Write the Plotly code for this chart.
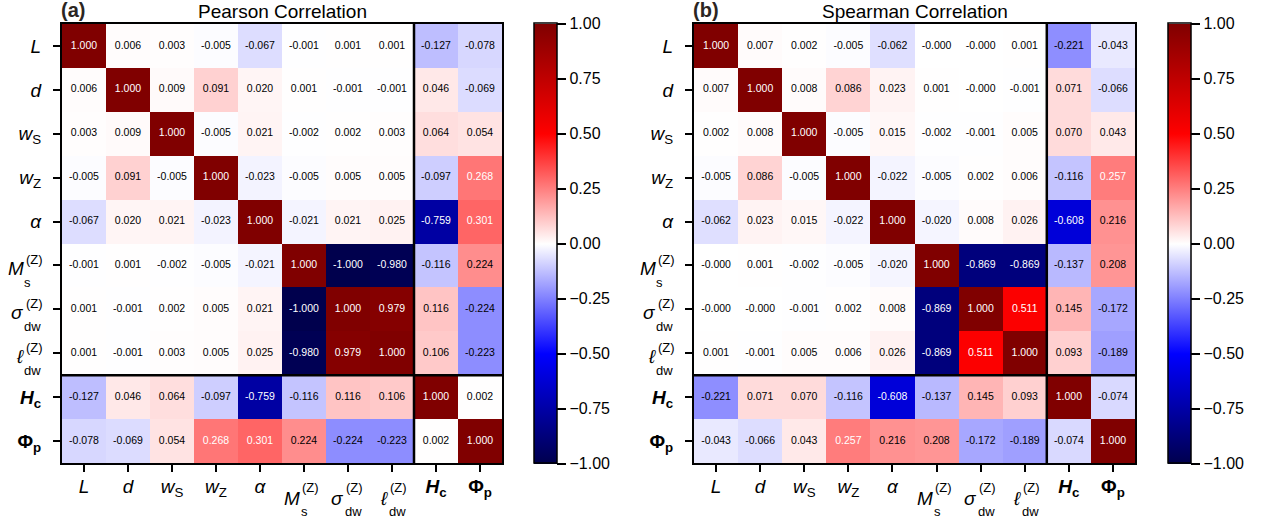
import plotly.graph_objects as go

# Parameter labels (rows and columns share the same order): base symbol, subscript, superscript
label_base = ["<i>L</i>", "<i>d</i>", "<i>w</i>", "<i>w</i>", "<i>α</i>",
              "<i>M</i>", "<i>σ</i>", "<i>ℓ</i>", "<b><i>H</i></b>", "<b>Φ</b>"]
label_sub = ["", "", "S", "Z", "", "s", "dw", "dw", "<b>c</b>", "<b>p</b>"]
label_sup = ["", "", "", "", "", "(Z)", "(Z)", "(Z)", "", ""]
n_inputs = 8  # first eight are model inputs, last two are outputs

pearson = [
    [1.000, 0.006, 0.003, -0.005, -0.067, -0.001, 0.001, 0.001, -0.127, -0.078],
    [0.006, 1.000, 0.009, 0.091, 0.020, 0.001, -0.001, -0.001, 0.046, -0.069],
    [0.003, 0.009, 1.000, -0.005, 0.021, -0.002, 0.002, 0.003, 0.064, 0.054],
    [-0.005, 0.091, -0.005, 1.000, -0.023, -0.005, 0.005, 0.005, -0.097, 0.268],
    [-0.067, 0.020, 0.021, -0.023, 1.000, -0.021, 0.021, 0.025, -0.759, 0.301],
    [-0.001, 0.001, -0.002, -0.005, -0.021, 1.000, -1.000, -0.980, -0.116, 0.224],
    [0.001, -0.001, 0.002, 0.005, 0.021, -1.000, 1.000, 0.979, 0.116, -0.224],
    [0.001, -0.001, 0.003, 0.005, 0.025, -0.980, 0.979, 1.000, 0.106, -0.223],
    [-0.127, 0.046, 0.064, -0.097, -0.759, -0.116, 0.116, 0.106, 1.000, 0.002],
    [-0.078, -0.069, 0.054, 0.268, 0.301, 0.224, -0.224, -0.223, 0.002, 1.000],
]

spearman = [
    [1.000, 0.007, 0.002, -0.005, -0.062, -0.0, -0.0, 0.001, -0.221, -0.043],
    [0.007, 1.000, 0.008, 0.086, 0.023, 0.001, -0.0, -0.001, 0.071, -0.066],
    [0.002, 0.008, 1.000, -0.005, 0.015, -0.002, -0.001, 0.005, 0.070, 0.043],
    [-0.005, 0.086, -0.005, 1.000, -0.022, -0.005, 0.002, 0.006, -0.116, 0.257],
    [-0.062, 0.023, 0.015, -0.022, 1.000, -0.020, 0.008, 0.026, -0.608, 0.216],
    [-0.0, 0.001, -0.002, -0.005, -0.020, 1.000, -0.869, -0.869, -0.137, 0.208],
    [-0.0, -0.0, -0.001, 0.002, 0.008, -0.869, 1.000, 0.511, 0.145, -0.172],
    [0.001, -0.001, 0.005, 0.006, 0.026, -0.869, 0.511, 1.000, 0.093, -0.189],
    [-0.221, 0.071, 0.070, -0.116, -0.608, -0.137, 0.145, 0.093, 1.000, -0.074],
    [-0.043, -0.066, 0.043, 0.257, 0.216, 0.208, -0.172, -0.189, -0.074, 1.000],
]

panel_tags = ["(a)", "(b)"]
panel_titles = ["Pearson Correlation", "Spearman Correlation"]
colorbar_ticks = [1.0, 0.75, 0.5, 0.25, 0.0, -0.25, -0.5, -0.75, -1.0]

# diverging blue-white-red scale (seismic)
seismic = [
    [0.0, "rgb(0,0,77)"],
    [0.25, "rgb(0,0,255)"],
    [0.5, "rgb(255,255,255)"],
    [0.75, "rgb(255,0,0)"],
    [1.0, "rgb(128,0,0)"],
]

W, H = 1266, 520
FONT = "Liberation Sans, Arial, Helvetica, sans-serif"
LABEL_SIZE = 19
SCRIPT_SIZE = 13

# pixel placement of each panel: (heatmap left, heatmap right, colorbar left)
panels_px = [(62, 502, 534), (694, 1135, 1168)]
top_px, bottom_px = 24, 463

idx = list(range(len(label_base)))

# simple labels go on the axis as tick text; labels carrying both a subscript and
# a superscript get a plain tick mark and are stacked with annotations below
plain_vals, plain_text, stacked_vals = [], [], []
for k, (b, sb, sp) in enumerate(zip(label_base, label_sub, label_sup)):
    if sp:
        stacked_vals.append(k)
    else:
        plain_vals.append(k)
        plain_text.append(b + (f"<sub>{sb}</sub>" if sb else ""))

fig = go.Figure()


def note(text, size, **kw):
    fig.add_annotation(text=text, showarrow=False, borderpad=0, borderwidth=0,
                       font=dict(size=size, color="black", family=FONT), **kw)


for p, (mat, (x0, x1, cbx)) in enumerate(zip([pearson, spearman], panels_px)):
    xa = "x" if p == 0 else "x2"
    ya = "y" if p == 0 else "y2"
    fig.add_trace(go.Heatmap(
        z=mat, x=idx, y=idx,
        colorscale=seismic, zmin=-1, zmax=1,
        xaxis=xa, yaxis=ya, hoverinfo="skip",
        colorbar=dict(
            x=cbx / W, xanchor="left", xpad=0, ypad=0,
            y=1 - (top_px + bottom_px) / 2 / H, yanchor="middle",
            len=bottom_px - top_px + 1, lenmode="pixels",
            thickness=23, thicknessmode="pixels",
            outlinewidth=1.5, outlinecolor="black",
            tickvals=colorbar_ticks, tickformat=".2f", tickprefix="\u00a0",
            ticks="outside", ticklen=9, tickwidth=1.5, tickcolor="black",
            tickfont=dict(size=16, color="black", family=FONT),
        ),
    ))
    # cell values
    xs, ys, txt, cols = [], [], [], []
    for i, row in enumerate(mat):
        for j, v in enumerate(row):
            xs.append(j)
            ys.append(i)
            txt.append(f"{v:.3f}")
            cols.append("white" if abs(v) > 0.25 else "black")
    fig.add_trace(go.Scatter(
        x=xs, y=ys, text=txt, mode="text", xaxis=xa, yaxis=ya,
        textfont=dict(size=10.5, color=cols, family=FONT),
        hoverinfo="skip", showlegend=False,
    ))

    axis_common = dict(
        tickmode="array", tickvals=plain_vals, ticktext=plain_text,
        showgrid=False, zeroline=False,
        showline=True, mirror=True, linewidth=2, linecolor="black",
        ticks="outside", ticklen=7, tickwidth=2, tickcolor="black",
        minor=dict(tickmode="array", tickvals=stacked_vals, ticks="outside",
                   ticklen=7, tickwidth=2, tickcolor="black", showgrid=False),
        tickangle=0,
        tickfont=dict(size=LABEL_SIZE, color="black", family=FONT),
    )
    xkey = "xaxis" if p == 0 else "xaxis2"
    ykey = "yaxis" if p == 0 else "yaxis2"
    fig.update_layout(**{
        xkey: dict(axis_common, domain=[x0 / W, x1 / W], range=[-0.5, len(idx) - 0.5],
                   anchor=ya, ticklabelstandoff=-2),
        ykey: dict(axis_common, domain=[1 - bottom_px / H, 1 - top_px / H],
                   range=[len(idx) - 0.5, -0.5], anchor=xa, ticklabelstandoff=8),
    })

    # stacked sub/superscript labels
    for k in stacked_vals:
        b, sb, sp = label_base[k], label_sub[k], label_sup[k]
        # x axis (below the map)
        note(b, LABEL_SIZE, xref=xa, x=k, xshift=-4, xanchor="right",
             yref=f"{ya} domain", y=0, yshift=-35, yanchor="middle")
        note(sp, SCRIPT_SIZE, xref=xa, x=k, xshift=-2, xanchor="left",
             yref=f"{ya} domain", y=0, yshift=-24, yanchor="middle")
        note(sb, SCRIPT_SIZE, xref=xa, x=k, xshift=-3, xanchor="left",
             yref=f"{ya} domain", y=0, yshift=-48, yanchor="middle")
        # y axis (left of the map)
        note(b, LABEL_SIZE, xref=f"{xa} domain", x=0, xshift=-38, xanchor="right",
             yref=ya, y=k, yshift=-3, yanchor="middle")
        note(sp, SCRIPT_SIZE, xref=f"{xa} domain", x=0, xshift=-36, xanchor="left",
             yref=ya, y=k, yshift=6, yanchor="middle")
        note(sb, SCRIPT_SIZE, xref=f"{xa} domain", x=0, xshift=-38, xanchor="left",
             yref=ya, y=k, yshift=-17, yanchor="middle")

    # separators between inputs and outputs
    sep = n_inputs - 0.5
    fig.add_shape(type="line", xref=xa, yref=ya, x0=sep, x1=sep, y0=-0.5, y1=len(idx) - 0.5,
                  line=dict(color="black", width=2.5))
    fig.add_shape(type="line", xref=xa, yref=ya, y0=sep, y1=sep, x0=-0.5, x1=len(idx) - 0.5,
                  line=dict(color="black", width=2.5))

    note(panel_titles[p], 19, xref="paper", yref="paper",
         x=(x0 + x1) / 2 / W, y=1 - 11 / H, xanchor="center", yanchor="middle")
    fig.add_annotation(text=f"<b>{panel_tags[p]}</b>", xref="paper", yref="paper",
                       x=(x0 - 2) / W, y=1 - 10 / H, xanchor="left", yanchor="middle",
                       showarrow=False, borderpad=0,
                       font=dict(size=20, color="#2b2522", family=FONT))

fig.update_layout(
    width=W, height=H, margin=dict(l=0, r=0, t=0, b=0),
    paper_bgcolor="white", plot_bgcolor="white", showlegend=False,
    font=dict(family=FONT, color="black"),
)

fig.write_html("out.html")
